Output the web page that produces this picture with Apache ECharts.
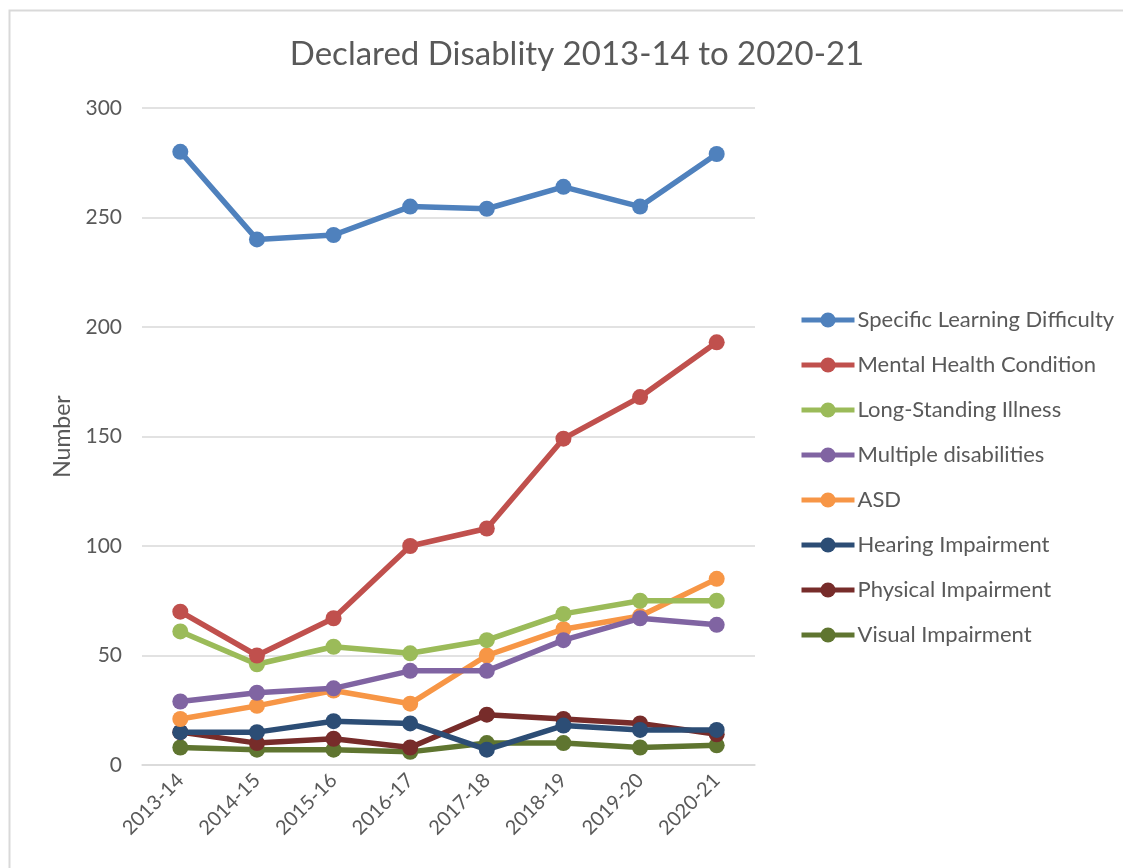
<!DOCTYPE html>
<html>
<head>
<meta charset="utf-8">
<script src="https://cdn.jsdelivr.net/npm/echarts@6/dist/echarts.min.js"></script>
<style>
html,body{margin:0;padding:0;background:#fff;}
#c{width:1123px;height:868px;}
</style>
</head>
<body>
<div id="c"></div>
<script>
const categories = ['2013-14','2014-15','2015-16','2016-17','2017-18','2018-19','2019-20','2020-21'];
const seriesNames = ['Specific Learning Difficulty','Mental Health Condition','Long-Standing Illness','Multiple disabilities','ASD','Hearing Impairment','Physical Impairment','Visual Impairment'];
const specificLearning = [280, 240, 242, 255, 254, 264, 255, 279];
const mentalHealth = [70, 50, 67, 100, 108, 149, 168, 193];
const longStanding = [61, 46, 54, 51, 57, 69, 75, 75];
const multiple = [29, 33, 35, 43, 43, 57, 67, 64];
const asd = [21, 27, 34, 28, 50, 62, 68, 85];
const hearing = [15, 15, 20, 19, 7, 18, 16, 16];
const physical = [15, 10, 12, 8, 23, 21, 19, 14];
const visual = [8, 7, 7, 6, 10, 10, 8, 9];
const yTicks = [0, 50, 100, 150, 200, 250, 300];

const allData = [specificLearning, mentalHealth, longStanding, multiple, asd, hearing, physical, visual];
const colors = ['#4F81BD','#C0504D','#9BBB59','#8064A2','#F79646','#2C4D75','#772C2A','#5F7530'];
const font = 'Lato, "Open Sans", sans-serif';
const txt = '#595959';

const chart = echarts.init(document.getElementById('c'));
chart.setOption({
  animation: false,
  color: colors,
  title: {
    text: 'Declared Disablity 2013-14 to 2020-21',
    left: 572, top: 33, textAlign: 'center',
    textStyle: {fontFamily: font, fontSize: 33, fontWeight: 'normal', color: txt}
  },
  graphic: [{
    type: 'rect', silent: true,
    shape: {x: 9.5, y: 10.5, width: 1200, height: 1000},
    style: {fill: 'none', stroke: '#d9d9d9', lineWidth: 2}
  }],
  legend: {
    orient: 'vertical',
    left: 794, top: 304,
    itemWidth: 53, itemHeight: 19, itemGap: 23,
    lineStyle: {width: 5},
    data: seriesNames,
    textStyle: {fontFamily: font, fontSize: 22, color: txt, padding: [0,0,0,-2]}
  },
  grid: {left: 142, right: 368, top: 108, bottom: 103, containLabel: false},
  xAxis: {
    type: 'category', data: categories, boundaryGap: true,
    axisLine: {lineStyle: {color: '#d9d9d9', width: 1.5}},
    axisTick: {show: false},
    axisLabel: {rotate: 45, fontFamily: font, fontSize: 20, color: txt, margin: 12, interval: 0}
  },
  yAxis: {
    type: 'value', min: 0, max: 300, interval: 50,
    name: 'Number', nameLocation: 'middle', nameGap: 68, nameRotate: 90,
    nameTextStyle: {fontFamily: font, fontSize: 23, color: txt},
    axisLine: {show: false}, axisTick: {show: false},
    axisLabel: {fontFamily: font, fontSize: 21, color: txt, margin: 20,
      formatter: v => yTicks.includes(v) ? String(v) : ''},
    splitLine: {lineStyle: {color: '#d9d9d9', width: 1.5}}
  },
  series: seriesNames.map((n, i) => ({
    name: n, type: 'line', data: allData[i],
    symbol: 'circle', symbolSize: 16,
    lineStyle: {width: 5.5, color: colors[i]},
    itemStyle: {color: colors[i]},
    z: 10 - i
  }))
});
</script>
</body>
</html>
